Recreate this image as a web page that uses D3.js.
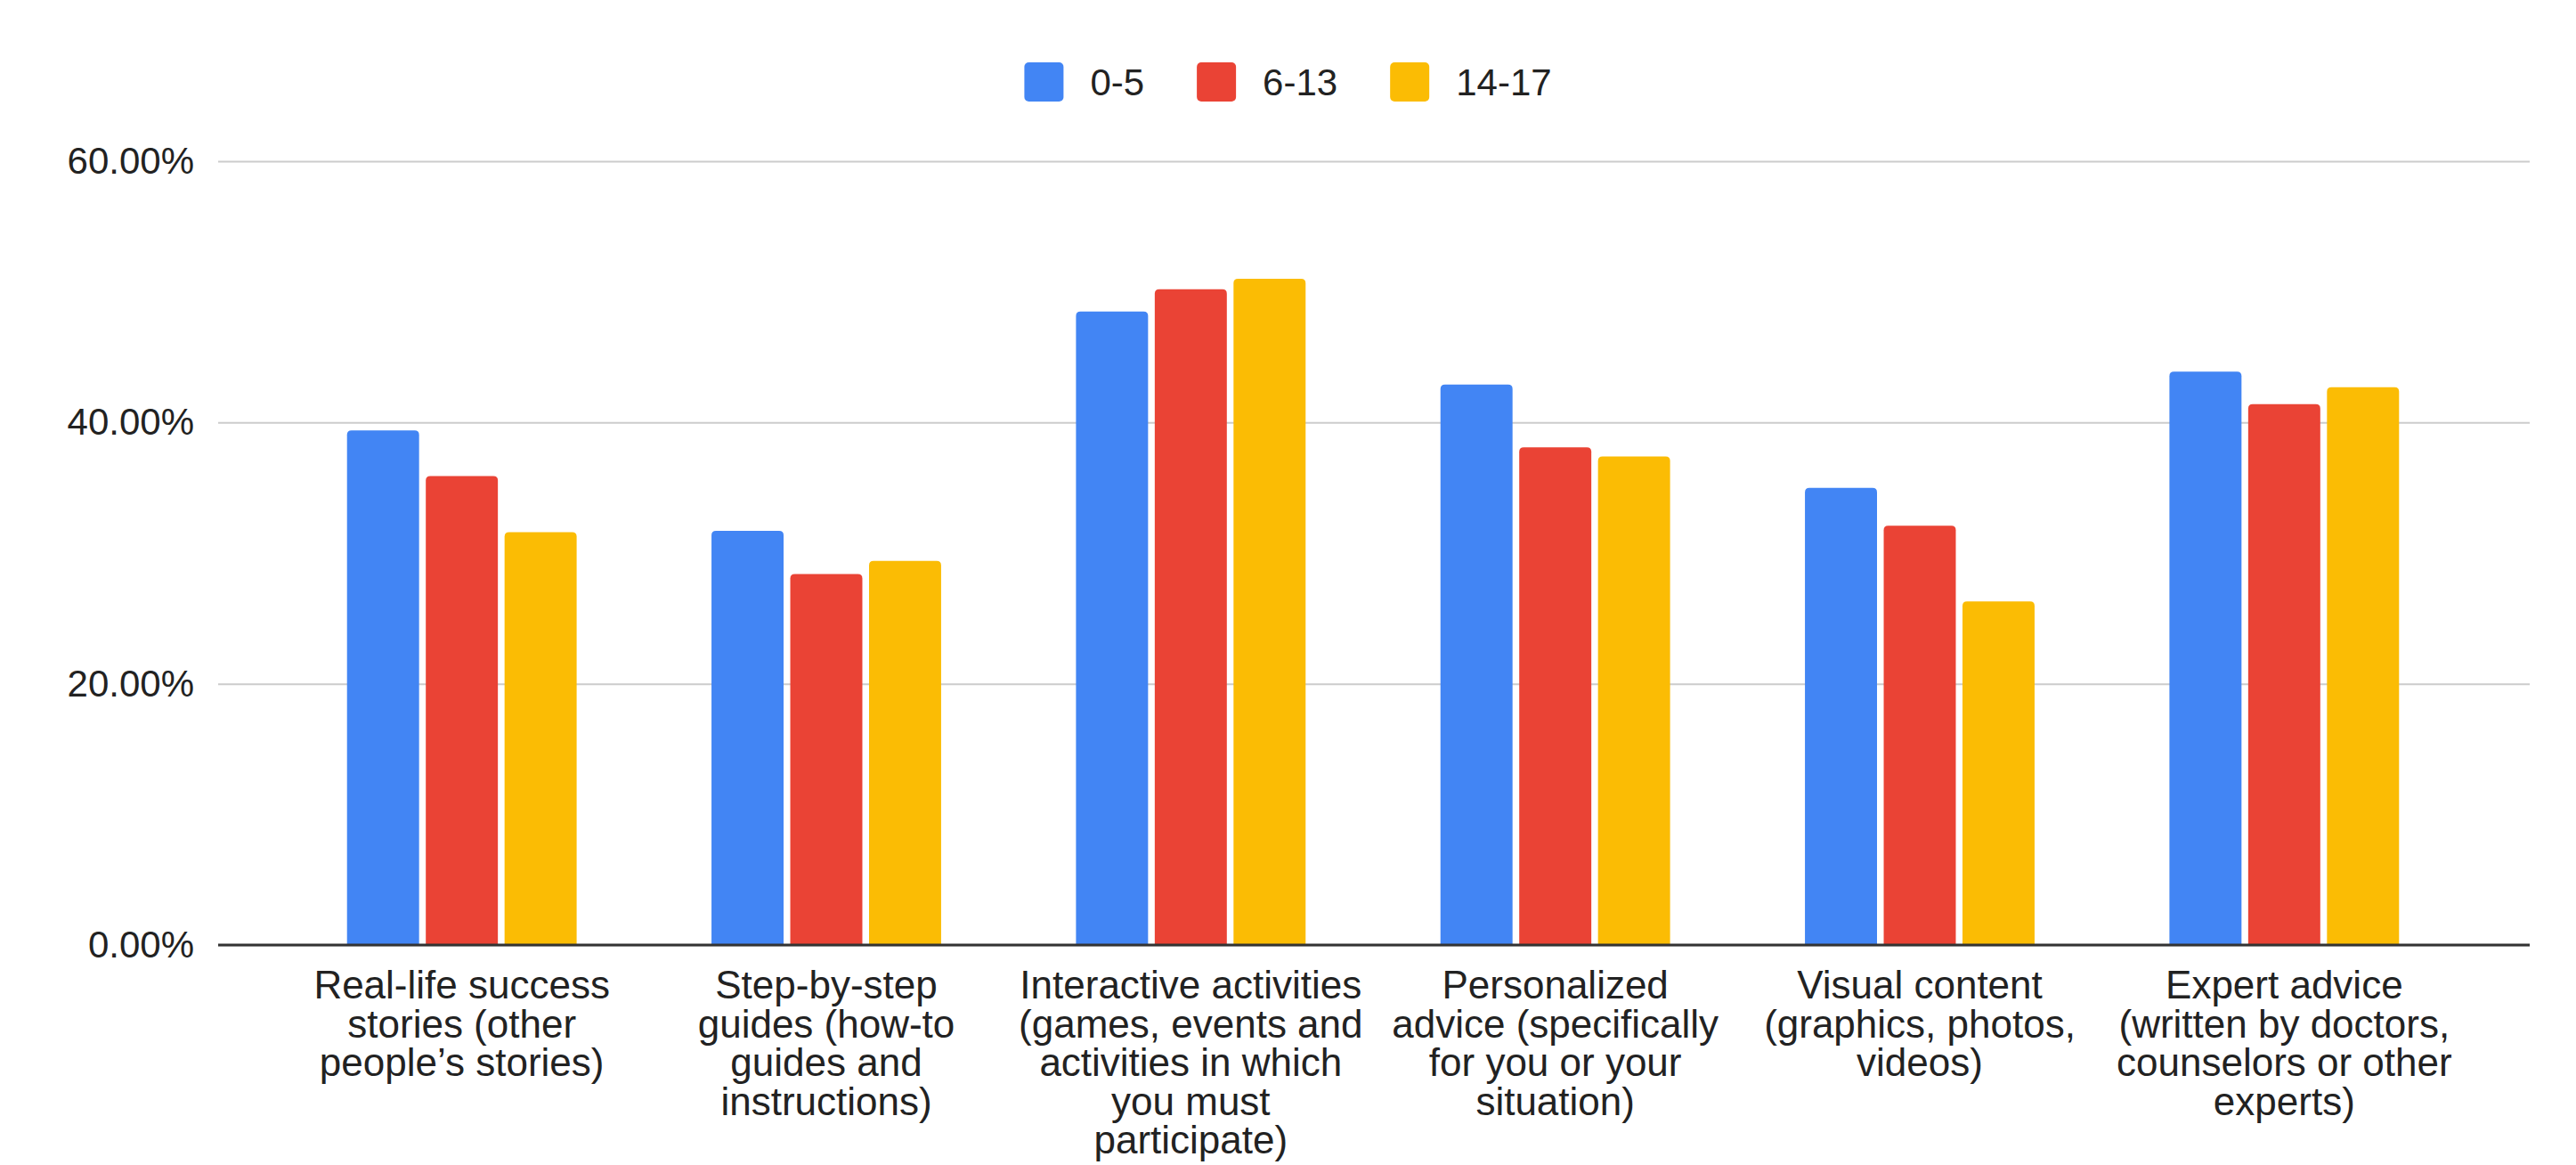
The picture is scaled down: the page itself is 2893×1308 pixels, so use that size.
<!DOCTYPE html>
<html>
<head>
<meta charset="utf-8">
<script src="https://cdn.jsdelivr.net/npm/d3@7"></script>
<style>
  html, body { margin: 0; padding: 0; background: #ffffff; }
  svg { display: block; }
  text { font-family: "Liberation Sans", Arial, Helvetica, sans-serif; }
</style>
</head>
<body>
<svg id="chart" width="2893" height="1308"></svg>
<script>
// ---- data ----
const categories = [
  "Real-life success stories (other people’s stories)",
  "Step-by-step guides (how-to guides and instructions)",
  "Interactive activities (games, events and activities in which you must participate)",
  "Personalized advice (specifically for you or your situation)",
  "Visual content (graphics, photos, videos)",
  "Expert advice (written by doctors, counselors or other experts)"
];
const categoryLines = [
  ["Real-life success", "stories (other", "people’s stories)"],
  ["Step-by-step", "guides (how-to", "guides and", "instructions)"],
  ["Interactive activities", "(games, events and", "activities in which", "you must", "participate)"],
  ["Personalized", "advice (specifically", "for you or your", "situation)"],
  ["Visual content", "(graphics, photos,", "videos)"],
  ["Expert advice", "(written by doctors,", "counselors or other", "experts)"]
];
const seriesNames = ["0-5", "6-13", "14-17"];
const values_0_5   = [39.4, 31.7, 48.5, 42.9, 35.0, 43.9];
const values_6_13  = [35.9, 28.4, 50.2, 38.1, 32.1, 41.4];
const values_14_17 = [31.6, 29.4, 51.0, 37.4, 26.3, 42.7];
const seriesValues = [values_0_5, values_6_13, values_14_17];
const seriesColors = ["#4285F4", "#EA4335", "#FBBC04"];
const yTicks = [0, 20, 40, 60];
const yTickLabels = ["0.00%", "20.00%", "40.00%", "60.00%"];

// ---- layout ----
const W = 2893, H = 1308;
const plotLeft = 245, plotRight = 2841, plotTop = 181, plotBottom = 1061;
const svg = d3.select("#chart");

const y = d3.scaleLinear().domain([0, 60]).range([plotBottom, plotTop]);

const x0 = d3.scaleBand().domain(categories)
  .range([plotLeft + 69, plotRight - 71]).paddingInner(0).paddingOuter(0);
const x1 = d3.scaleBand().domain(seriesNames)
  .range([0, x0.bandwidth()]).paddingInner(0.085).paddingOuter(0.856);

// gridlines
const grid = svg.append("g").attr("transform", `translate(${plotLeft},0)`)
  .call(d3.axisLeft(y).tickValues(yTicks).tickSize(-(plotRight - plotLeft)).tickFormat(""));
grid.select(".domain").remove();
grid.selectAll(".tick line").attr("stroke", "#cccccc").attr("stroke-width", 2);

// y labels
const yAxis = svg.append("g").attr("transform", `translate(${plotLeft - 27},0)`)
  .call(d3.axisLeft(y).tickValues(yTicks).tickSize(0).tickPadding(0)
    .tickFormat((d, i) => yTickLabels[i]));
yAxis.select(".domain").remove();
yAxis.selectAll("text").attr("font-size", 42).attr("fill", "#222222")
  .attr("font-family", "'Liberation Sans', Arial, sans-serif");

// bars
function topRounded(x, yT, w, h, r) {
  r = Math.min(r, h, w / 2);
  return `M${x},${yT + h}V${yT + r}Q${x},${yT} ${x + r},${yT}H${x + w - r}Q${x + w},${yT} ${x + w},${yT + r}V${yT + h}Z`;
}
const groups = svg.append("g").selectAll("g").data(categories).join("g")
  .attr("transform", d => `translate(${x0(d)},0)`);
groups.selectAll("path").data((d, ci) => seriesNames.map((s, si) => ({ s, si, v: seriesValues[si][ci] })))
  .join("path")
  .attr("fill", d => seriesColors[d.si])
  .attr("d", d => topRounded(x1(d.s), y(d.v), x1.bandwidth(), y(0) - y(d.v), 5));

// baseline
svg.append("line").attr("x1", plotLeft).attr("x2", plotRight)
  .attr("y1", y(0)).attr("y2", y(0)).attr("stroke", "#333333").attr("stroke-width", 3);

// category labels
const lab = svg.append("g");
categories.forEach((c, i) => {
  const cx = x0(c) + x0.bandwidth() / 2;
  const t = lab.append("text").attr("text-anchor", "middle").attr("font-size", 44)
    .attr("fill", "#222222");
  categoryLines[i].forEach((ln, j) => {
    t.append("tspan").attr("x", cx).attr("y", 1106 + j * 43.5).attr("dy", "0.35em").text(ln);
  });
});

// legend
const leg = svg.append("g");
let lx = 0;
seriesNames.forEach((s, i) => {
  const g = leg.append("g").attr("transform", `translate(${lx},0)`);
  g.append("rect").attr("x", 0).attr("y", 70).attr("width", 44).attr("height", 44)
    .attr("rx", 5).attr("fill", seriesColors[i]);
  const tx = g.append("text").attr("x", 74).attr("y", 92).attr("dy", "0.35em")
    .attr("font-size", 42).attr("fill", "#222222").text(s);
  const tw = tx.node().getComputedTextLength();
  lx += 74 + tw + 59;
});
const legW = lx - 59;
leg.attr("transform", `translate(${W / 2 - legW / 2},0)`);
</script>
</body>
</html>
